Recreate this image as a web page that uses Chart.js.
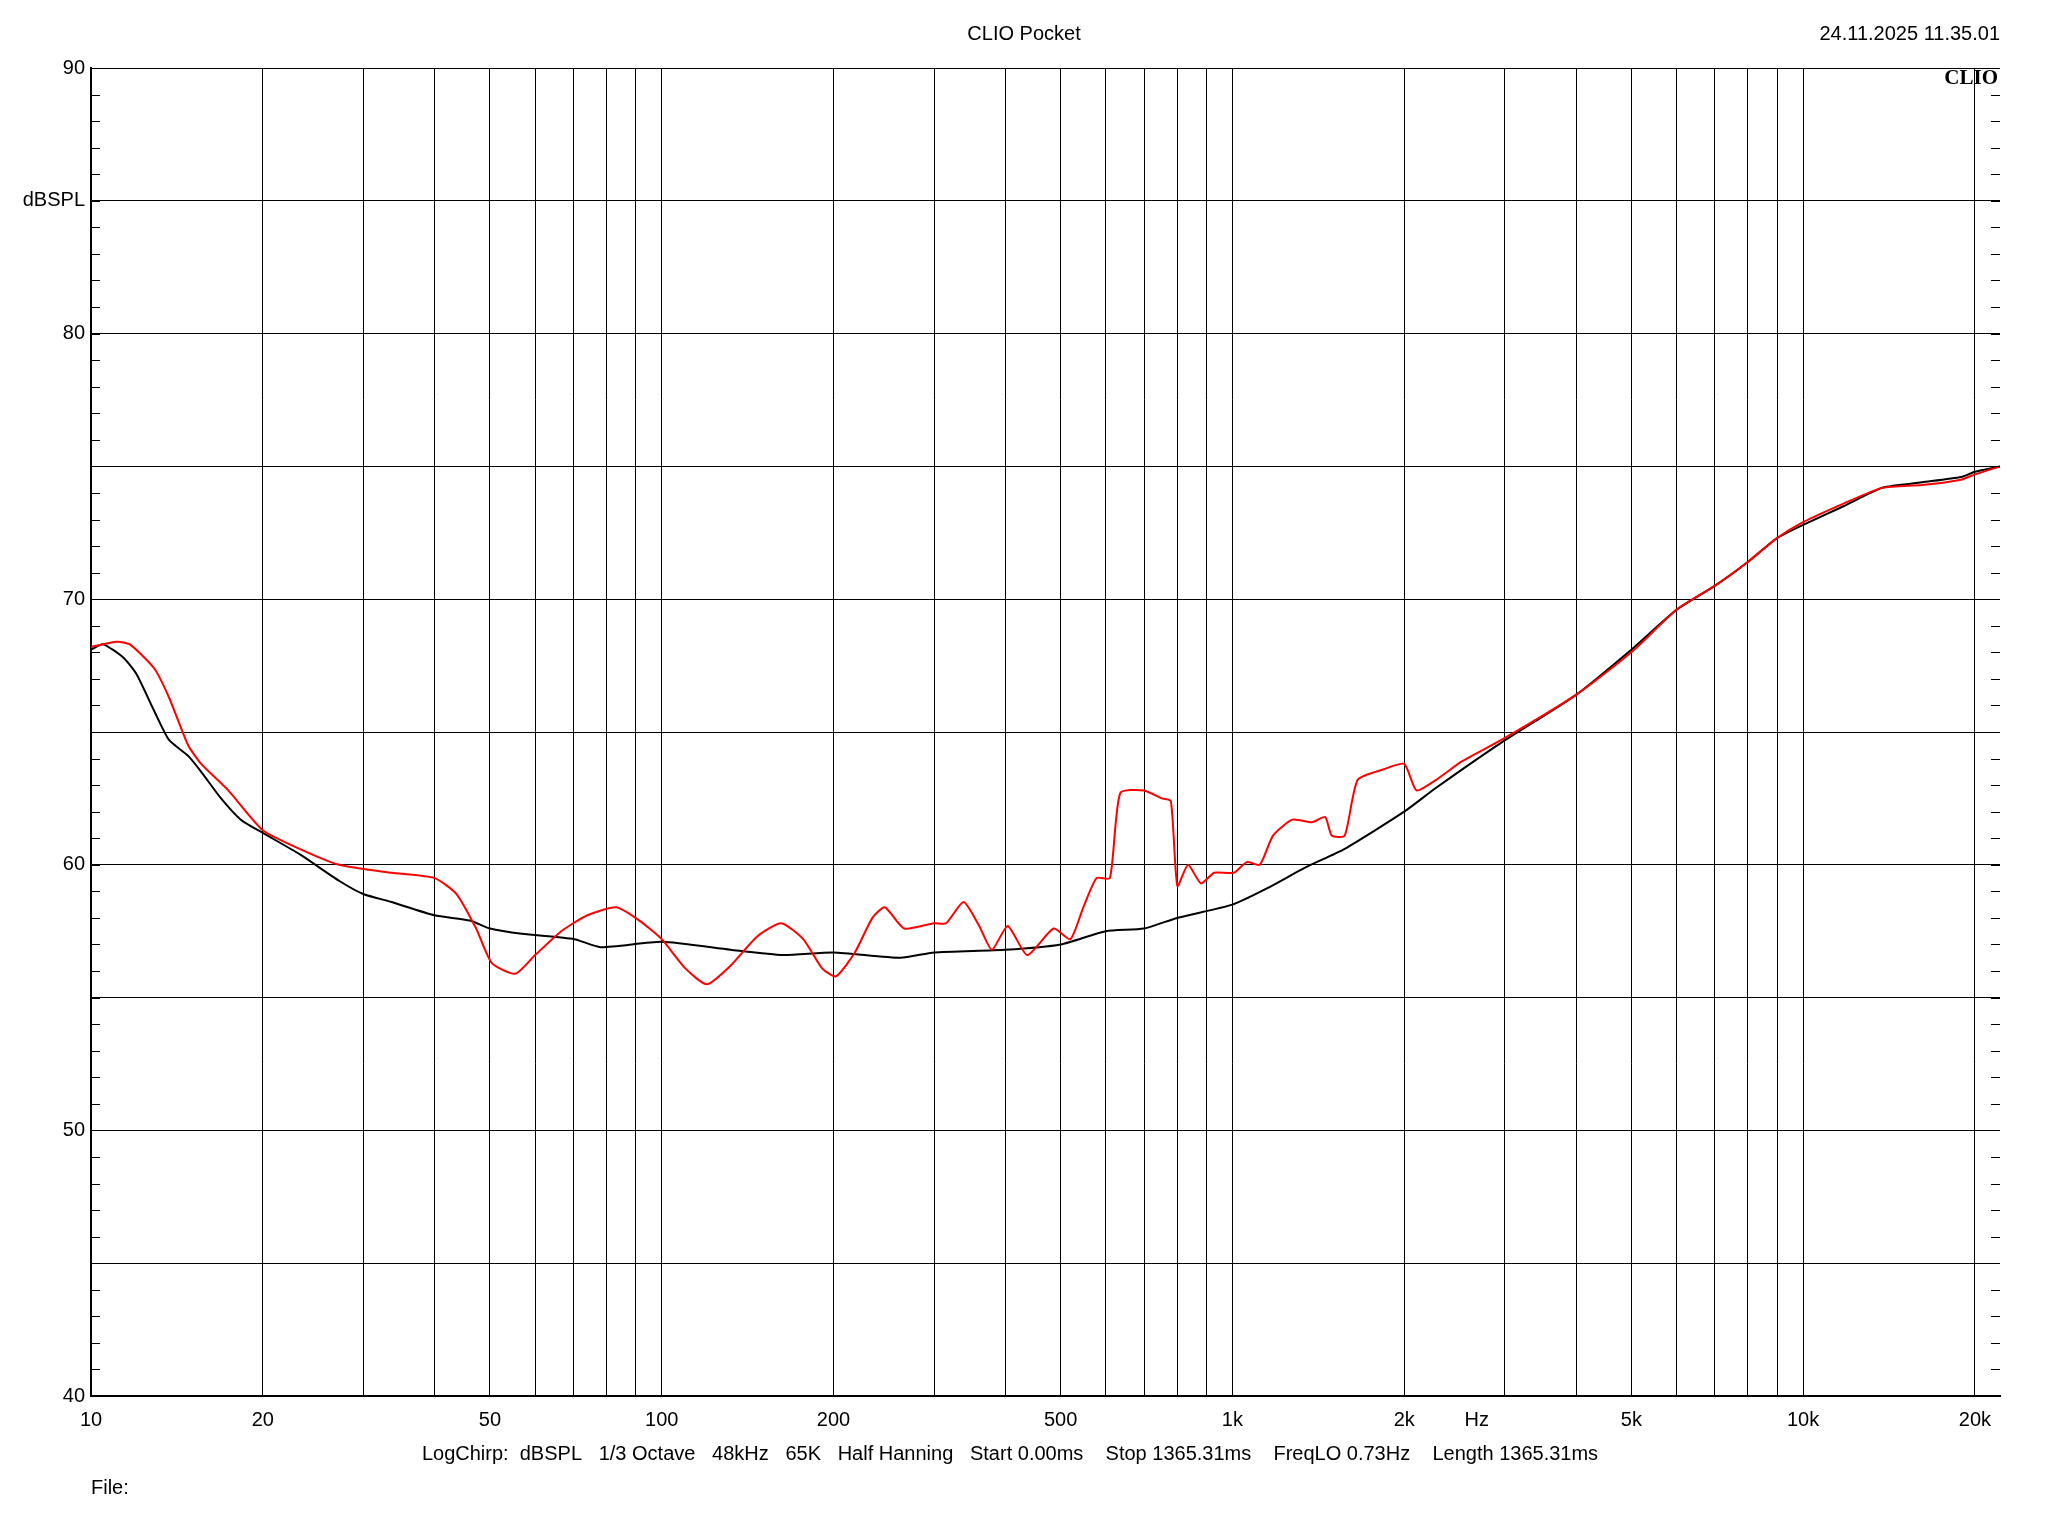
<!DOCTYPE html>
<html>
<head>
<meta charset="utf-8">
<script src="https://cdn.jsdelivr.net/npm/chart.js@4"></script>
<style>body{margin:0;background:#fff}canvas{display:block}</style>
</head>
<body>
<canvas id="c" width="2048" height="1536"></canvas>
<script>
const blackFreq = [10,10.5,11.4,12.0,12.9,13.7,14.8,15.6,16.9,18.3,20,23.2,27.2,30,33.6,40,46.1,50,56.9,70.3,78.1,100,132,163,200,262,300,400,500,600,700,800,1000,1147,1343,1573,2000,2275,2960,4000,5000,6000,7000,8000,9000,10000,11770,13790,16150,18920,20000,22130];
const blackDb   = [68.1,68.3,67.8,67.2,65.8,64.7,64.1,63.5,62.5,61.7,61.2,60.4,59.4,58.9,58.6,58.1,57.9,57.6,57.4,57.2,56.9,57.1,56.8,56.6,56.7,56.5,56.7,56.8,57.0,57.5,57.6,58.0,58.5,59.1,59.9,60.6,62.0,62.9,64.6,66.4,68.1,69.6,70.5,71.4,72.3,72.8,73.5,74.2,74.4,74.6,74.8,75.0];

const redFreq = [10,11.1,11.7,12.9,13.7,14.8,15.6,17.4,20,23.2,27.2,33.6,40,43.7,47.3,50.4,55.4,60,66.7,74.1,83.2,91.4,100,110,120,132,147,162,177,191,202,218,234,246,266,300,315,338,360,379,404,437,486,520,548,578,610,636,700,752,780,801,836,881,929,1005,1060,1117,1178,1274,1379,1454,1493,1573,1658,1843,2000,2102,2275,2527,2960,4000,5000,6000,7000,8000,9000,10000,11770,13790,16150,18920,20000,22130];
const redDb   = [68.2,68.4,68.3,67.4,66.3,64.5,63.8,62.8,61.3,60.6,60.0,59.7,59.5,58.9,57.6,56.3,55.9,56.6,57.5,58.1,58.4,57.9,57.2,56.1,55.5,56.2,57.3,57.8,57.2,56.1,55.8,56.7,58.0,58.4,57.6,57.8,57.8,58.6,57.7,56.8,57.7,56.6,57.6,57.2,58.4,59.5,59.5,62.7,62.8,62.5,62.4,59.2,60.0,59.3,59.7,59.7,60.1,60.0,61.1,61.7,61.6,61.8,61.1,61.1,63.2,63.6,63.8,62.8,63.2,63.9,64.7,66.4,68.0,69.6,70.5,71.4,72.3,72.9,73.6,74.2,74.3,74.5,74.7,75.0];

const xGrid = [10,20,30,40,50,60,70,80,90,100,200,300,400,500,600,700,800,900,1000,2000,3000,4000,5000,6000,7000,8000,9000,10000,20000];
const xLabels = {10:"10",20:"20",50:"50",100:"100",200:"200",500:"500",1000:"1k",2000:"2k",5000:"5k",10000:"10k",20000:"20k"};
const yLabels = {40:"40",50:"50",60:"60",70:"70",80:"80",85:"dBSPL",90:"90"};

const FONT = "Liberation Sans, Arial, sans-serif";

const extras = {
  id: "extras",
  afterDraw(chart) {
    const ctx = chart.ctx, a = chart.chartArea, y = chart.scales.y, x = chart.scales.x;
    ctx.save();
    ctx.strokeStyle = "#000"; ctx.lineWidth = 1;
    for (let v = 40; v <= 90; v++) {
      const py = Math.round(y.getPixelForValue(v)) + 0.5;
      ctx.beginPath();
      ctx.moveTo(a.left, py); ctx.lineTo(a.left + 9, py);
      ctx.moveTo(a.right - 9, py); ctx.lineTo(a.right, py);
      ctx.stroke();
    }
    ctx.fillStyle = "#000";
    ctx.font = "20px " + FONT;
    ctx.textBaseline = "middle";
    ctx.textAlign = "center";
    ctx.fillText("CLIO Pocket", 1024, 34);
    ctx.fillText("Hz", x.getPixelForValue(2680), 1420);
    ctx.fillText("LogChirp:  dBSPL   1/3 Octave   48kHz   65K   Half Hanning   Start 0.00ms    Stop 1365.31ms    FreqLO 0.73Hz    Length 1365.31ms", 1010, 1454);
    ctx.textAlign = "right";
    ctx.fillText("24.11.2025 11.35.01", a.right, 34);
    ctx.textAlign = "left";
    ctx.fillText("File:", 91, 1488);
    ctx.textAlign = "right";
    ctx.font = "bold 21px Liberation Serif, serif";
    ctx.fillText("CLIO", a.right - 2, 79);
    ctx.restore();
  }
};

new Chart(document.getElementById("c"), {
  type: "scatter",
  data: {
    datasets: [
      { data: redFreq.map((f, i) => ({x: f, y: redDb[i]})), borderColor: "#ff0000", showLine: true, pointRadius: 0, borderWidth: 2, tension: 0.2 },
      { data: blackFreq.map((f, i) => ({x: f, y: blackDb[i]})), borderColor: "#000000", showLine: true, pointRadius: 0, borderWidth: 2, tension: 0.2 }
    ]
  },
  options: {
    responsive: false,
    devicePixelRatio: 1,
    animation: false,
    layout: { padding: { top: 68, right: 48, left: 0, bottom: 0 } },
    plugins: { legend: { display: false }, tooltip: { enabled: false } },
    scales: {
      x: {
        type: "logarithmic", min: 10, max: 22130,
        afterBuildTicks: s => { s.ticks = xGrid.map(v => ({value: v})); },
        afterFit: s => { s.height = 140; },
        border: { color: "#000", width: 2 },
        grid: { color: "#000", lineWidth: 1, tickLength: 0 },
        ticks: { autoSkip: false, maxRotation: 0, padding: 12, color: "#000", font: { size: 20, family: FONT },
          callback: v => xLabels[v] || "" }
      },
      y: {
        min: 40, max: 90,
        afterBuildTicks: s => { s.ticks = [40,45,50,55,60,65,70,75,80,85,90].map(v => ({value: v})); },
        afterFit: s => { s.width = 91; },
        border: { color: "#000", width: 2 },
        grid: { color: "#000", lineWidth: 1, tickLength: 0 },
        ticks: { padding: 6, color: "#000", font: { size: 20, family: FONT },
          callback: v => yLabels[v] || "" }
      }
    }
  },
  plugins: [extras]
});
</script>
</body>
</html>
